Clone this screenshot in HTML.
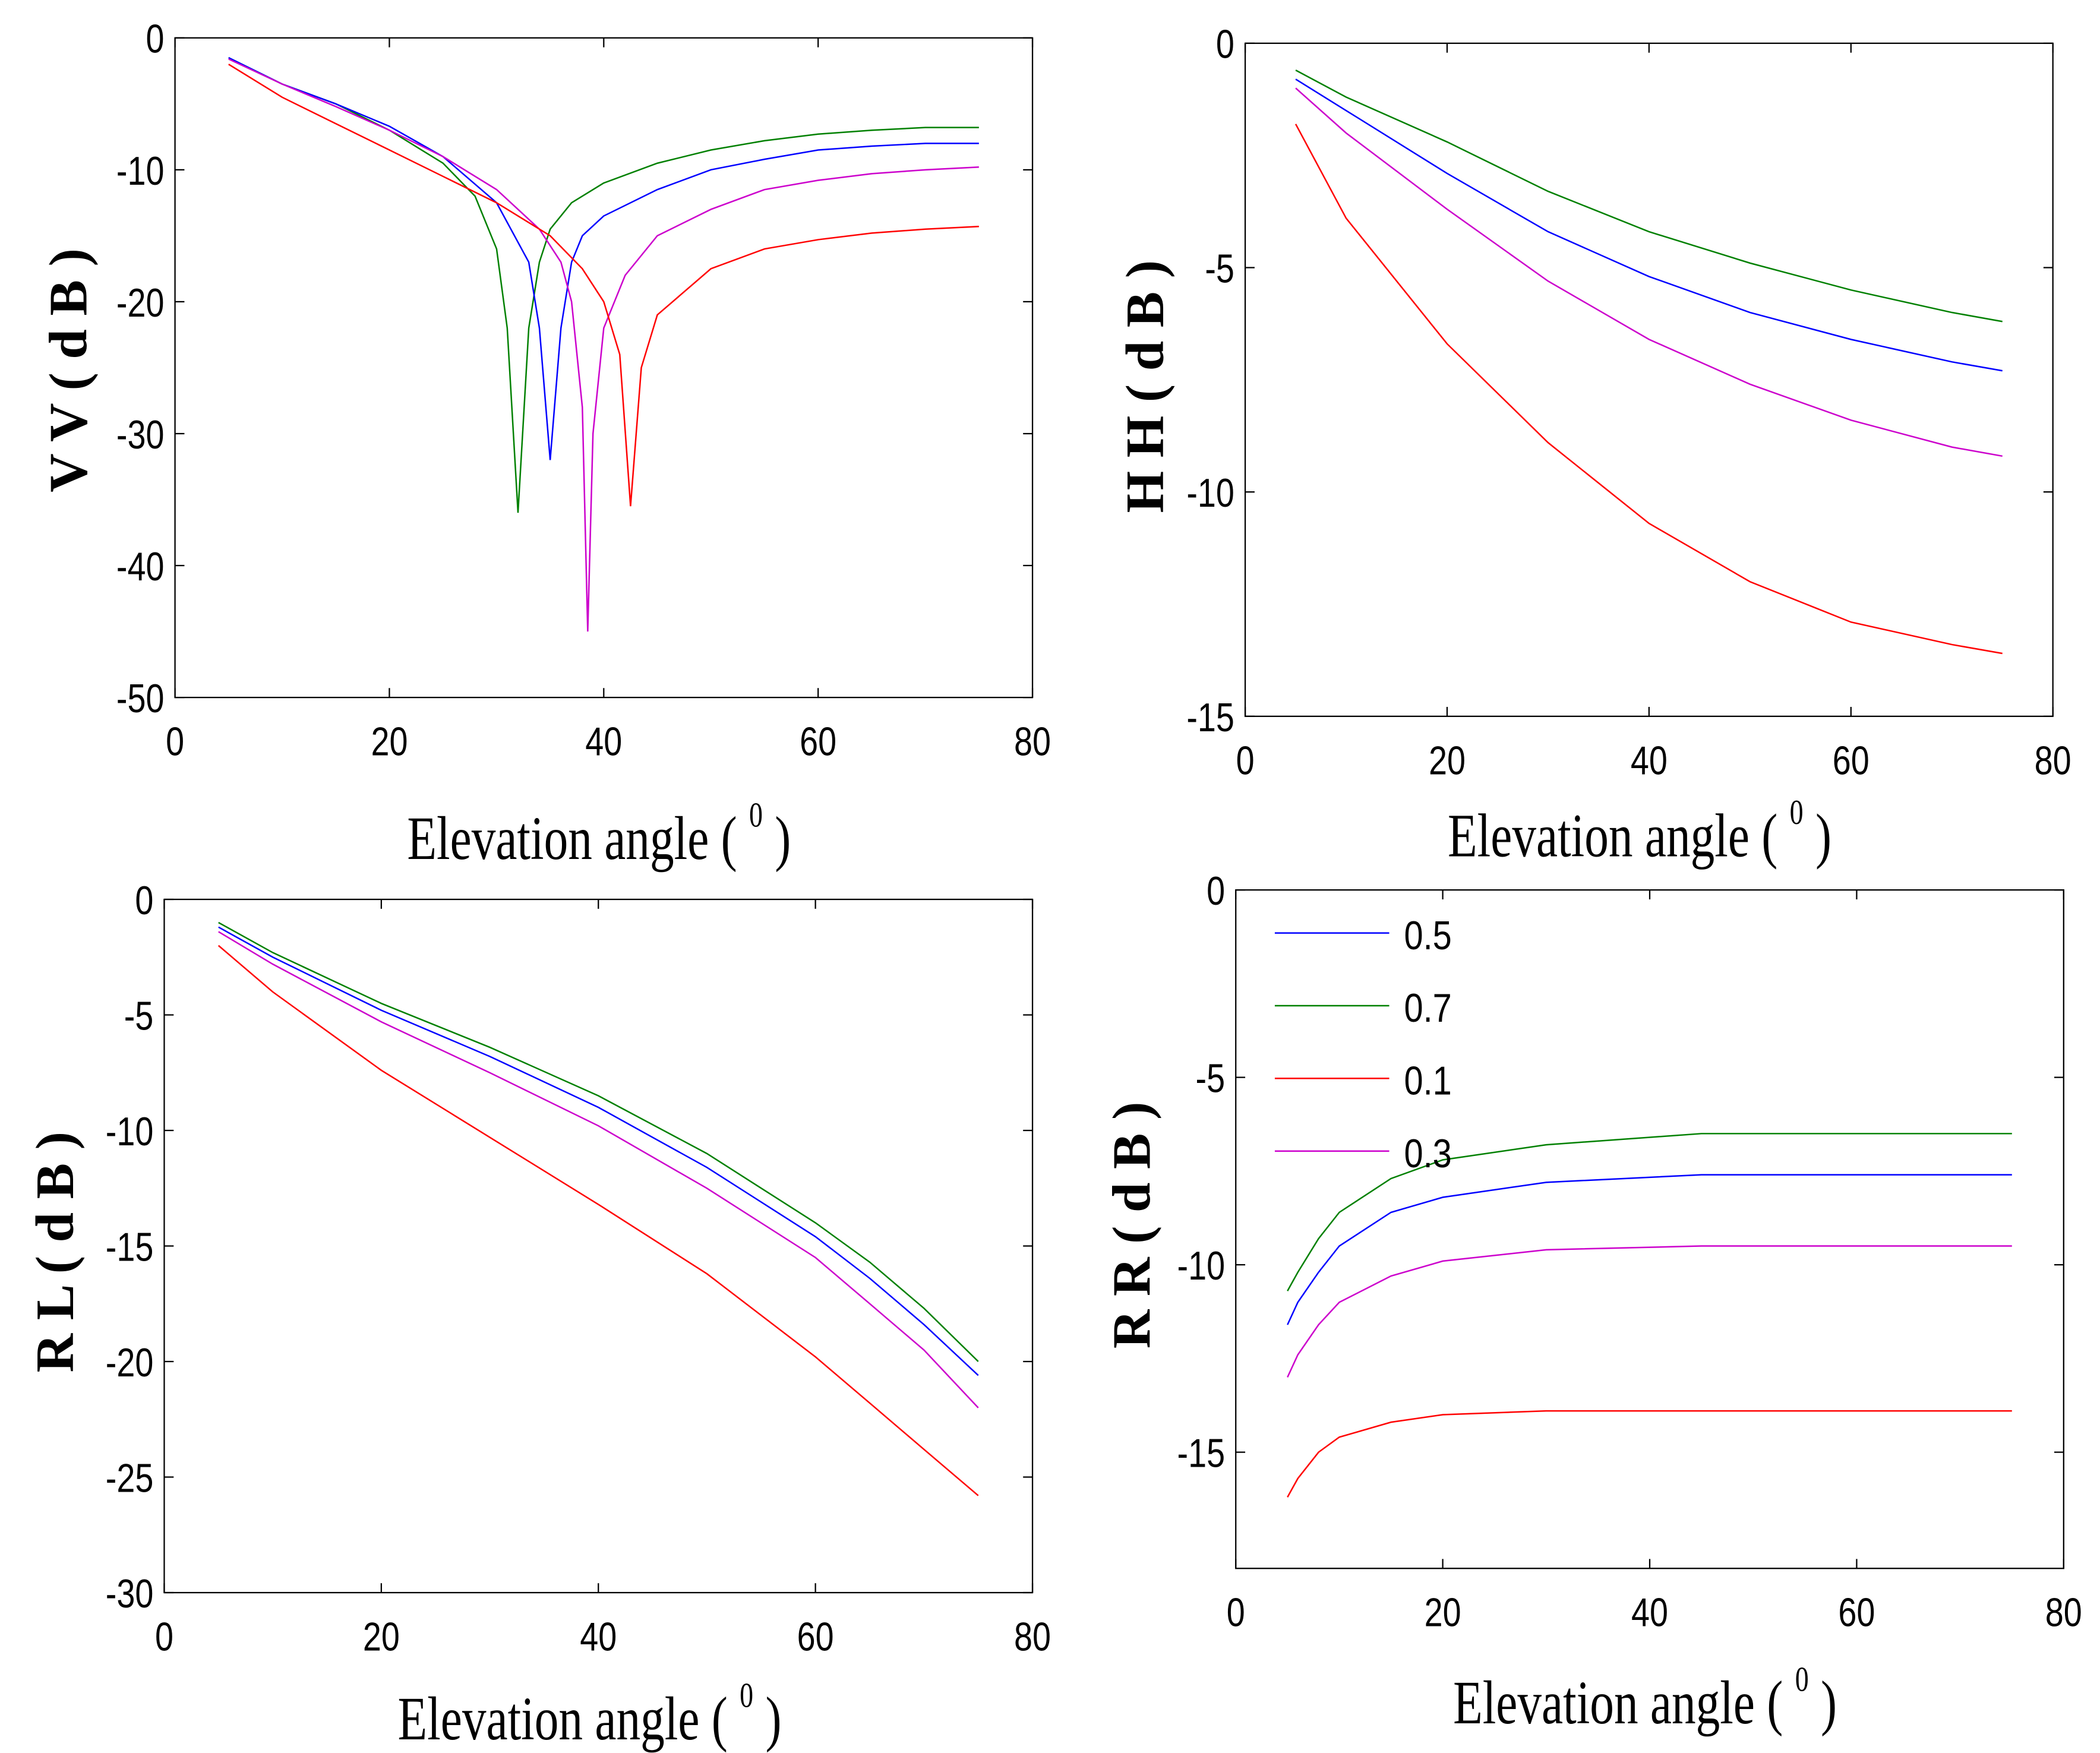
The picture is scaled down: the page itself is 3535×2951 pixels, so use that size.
<!DOCTYPE html>
<html><head><meta charset="utf-8"><style>
html,body{margin:0;padding:0;background:#fff}
svg{display:block}
.tk{font-family:"Liberation Sans",sans-serif;font-size:30px;fill:#000}
.yl{font-family:"Liberation Serif",serif;font-size:40px;font-weight:bold;fill:#000}
.xl{font-family:"Liberation Serif",serif;font-size:46px;fill:#000}
</style></head><body>
<svg id="fig" width="3535" height="2951" viewBox="0 0 1560 1302" xmlns="http://www.w3.org/2000/svg"></svg>
<script>
const xTicks=[0,20,40,60,80];
const vvTicks=[0,-10,-20,-30,-40,-50];
const hhTicks=[0,-5,-10,-15];
const rlTicks=[0,-5,-10,-15,-20,-25,-30];
const rrTicks=[0,-5,-10,-15];
const legendLabels=["0.5","0.7","0.1","0.3"];
const colors={g:"#008000",b:"#0000ff",m:"#cc00cc",r:"#ff0000"};
// VV
const vvGx=[5,10,15,20,25,28,30,31,32,33,34,35,37,40,45,50,55,60,65,70,75];
const vvGy=[-1.5,-3.5,-5,-7,-9.5,-12,-16,-22,-36,-22,-17,-14.5,-12.5,-11,-9.5,-8.5,-7.8,-7.3,-7,-6.8,-6.8];
const vvBx=[5,10,15,20,25,30,33,34,35,36,37,38,40,45,50,55,60,65,70,75];
const vvBy=[-1.5,-3.5,-5,-6.7,-9,-12.5,-17,-22,-32,-22,-17,-15,-13.5,-11.5,-10,-9.2,-8.5,-8.2,-8,-8];
const vvMx=[5,10,15,20,25,30,34,36,37,38,38.5,39,40,42,45,50,55,60,65,70,75];
const vvMy=[-1.6,-3.5,-5.2,-7,-9,-11.5,-14.5,-17,-20,-28,-45,-30,-22,-18,-15,-13,-11.5,-10.8,-10.3,-10,-9.8];
const vvRx=[5,10,15,20,25,30,35,38,40,41.5,42.5,43.5,45,50,55,60,65,70,75];
const vvRy=[-2,-4.5,-6.5,-8.5,-10.5,-12.5,-15,-17.5,-20,-24,-35.5,-25,-21,-17.5,-16,-15.3,-14.8,-14.5,-14.3];
// HH
const hhX=[5,10,20,30,40,50,60,70,75];
const hhG=[-0.6,-1.2,-2.2,-3.3,-4.2,-4.9,-5.5,-6.0,-6.2];
const hhB=[-0.8,-1.5,-2.9,-4.2,-5.2,-6.0,-6.6,-7.1,-7.3];
const hhM=[-1,-2,-3.7,-5.3,-6.6,-7.6,-8.4,-9.0,-9.2];
const hhR=[-1.8,-3.9,-6.7,-8.9,-10.7,-12.0,-12.9,-13.4,-13.6];
// RL
const rlX=[5,10,20,30,40,50,60,65,70,75];
const rlG=[-1,-2.3,-4.5,-6.4,-8.5,-11,-14,-15.7,-17.7,-20];
const rlB=[-1.2,-2.5,-4.8,-6.8,-9,-11.6,-14.6,-16.4,-18.4,-20.6];
const rlM=[-1.4,-2.8,-5.3,-7.5,-9.8,-12.5,-15.5,-17.5,-19.5,-22];
const rlR=[-2,-4,-7.4,-10.3,-13.2,-16.2,-19.8,-21.8,-23.8,-25.8];
// RR
const rrX=[5,6,8,10,15,20,30,45,75];
const rrG=[-10.7,-10.2,-9.3,-8.6,-7.7,-7.2,-6.8,-6.5,-6.5];
const rrB=[-11.6,-11,-10.2,-9.5,-8.6,-8.2,-7.8,-7.6,-7.6];
const rrM=[-13,-12.4,-11.6,-11,-10.3,-9.9,-9.6,-9.5,-9.5];
const rrR=[-16.2,-15.7,-15,-14.6,-14.2,-14,-13.9,-13.9,-13.9];

const NS="http://www.w3.org/2000/svg";
const svg=document.getElementById('fig');
function mk(tag,attrs,parent){const e=document.createElementNS(NS,tag);for(const k in attrs)e.setAttribute(k,attrs[k]);(parent||svg).appendChild(e);return e;}

function panel(id,box,ymin,yTicks,ylabel,ylPos,xlPos,series){
  const g=mk('g',{});
  
  
  const [x0,y0,x1,y1]=box;
  const sx=v=>x0+(v/80)*(x1-x0);
  const sy=v=>y0+(v/ymin)*(y1-y0);
  const fr=mk('rect',{x:x0,y:y0,width:x1-x0,height:y1-y0,fill:'none',stroke:'#000','stroke-width':1},g);
  
  
  xTicks.forEach(t=>{
    const x=sx(t);
    mk('line',{x1:x,y1:y1,x2:x,y2:y1-7,stroke:'#000'},g);
    mk('line',{x1:x,y1:y0,x2:x,y2:y0+7,stroke:'#000'},g);
    const tx=mk('text',{x:x,y:y1+43,'text-anchor':'middle',class:'tk',transform:`translate(${x},0) scale(0.82,1) translate(${-x},0)`},g);
    tx.textContent=t;
    
    
  });
  yTicks.forEach(t=>{
    const y=sy(t);
    mk('line',{x1:x0,y1:y,x2:x0+7,y2:y,stroke:'#000'},g);
    mk('line',{x1:x1,y1:y,x2:x1-7,y2:y,stroke:'#000'},g);
    const tx=mk('text',{x:x0-8,y:y+11,'text-anchor':'end',class:'tk',transform:`translate(${x0-8},0) scale(0.82,1) translate(${-(x0-8)},0)`},g);
    tx.textContent=t;
    
    
  });
  series.forEach(s=>{
    const pts=s.x.map((v,i)=>sx(v).toFixed(1)+','+sy(s.y[i]).toFixed(1)).join(' ');
    const p=mk('polyline',{points:pts,fill:'none',stroke:s.c,'stroke-width':1.1},g);
    
    
  });
  const yl=mk('text',{x:ylPos[0],y:ylPos[1],'text-anchor':'middle',class:'yl',transform:`rotate(-90 ${ylPos[0]} ${ylPos[1]})`,'dominant-baseline':'middle'},g);
  yl.textContent=ylabel;
  
  
  const xl=mk('text',{x:xlPos[0],y:xlPos[1],'text-anchor':'middle',class:'xl',transform:`translate(${xlPos[0]},0) scale(0.78,1) translate(${-xlPos[0]},0)`},g);
  xl.innerHTML='Elevation angle ( <tspan dy="-24" font-size="26">0</tspan><tspan dy="24"> )</tspan>';
  
  
  return {sx,sy};
}

panel('vv',[130,28,767,518],-50,vvTicks,'V V  ( d B )',[55,275],[445,638],[
  {n:'0.7',c:colors.g,x:vvGx,y:vvGy},{n:'0.5',c:colors.b,x:vvBx,y:vvBy},
  {n:'0.3',c:colors.m,x:vvMx,y:vvMy},{n:'0.1',c:colors.r,x:vvRx,y:vvRy}]);
panel('hh',[925,32,1525,532],-15,hhTicks,'H H  ( d B )',[855,287],[1218,636],[
  {n:'0.7',c:colors.g,x:hhX,y:hhG},{n:'0.5',c:colors.b,x:hhX,y:hhB},
  {n:'0.3',c:colors.m,x:hhX,y:hhM},{n:'0.1',c:colors.r,x:hhX,y:hhR}]);
panel('rl',[122,668,767,1183],-30,rlTicks,'R L  ( d B )',[45,930],[438,1292],[
  {n:'0.7',c:colors.g,x:rlX,y:rlG},{n:'0.5',c:colors.b,x:rlX,y:rlB},
  {n:'0.3',c:colors.m,x:rlX,y:rlM},{n:'0.1',c:colors.r,x:rlX,y:rlR}]);
panel('rr',[918,661,1533,1165],-18.1,rrTicks,'R R  ( d B )',[845,910],[1222,1280],[
  {n:'0.7',c:colors.g,x:rrX,y:rrG},{n:'0.5',c:colors.b,x:rrX,y:rrB},
  {n:'0.3',c:colors.m,x:rrX,y:rrM},{n:'0.1',c:colors.r,x:rrX,y:rrR}]);

const legCols=[colors.b,colors.g,colors.r,colors.m];
const leg=mk('g',{});


legendLabels.forEach((l,i)=>{
  const y=693+i*54;
  const ln=mk('line',{x1:947,y1:y,x2:1032,y2:y,stroke:legCols[i],'stroke-width':1.1},leg);
  
  
  const t=mk('text',{x:1043,y:y+12,class:'tk',transform:`translate(1043,0) scale(0.85,1) translate(-1043,0)`},leg);
  t.textContent=l;
  
  
});
</script>
</body></html>
